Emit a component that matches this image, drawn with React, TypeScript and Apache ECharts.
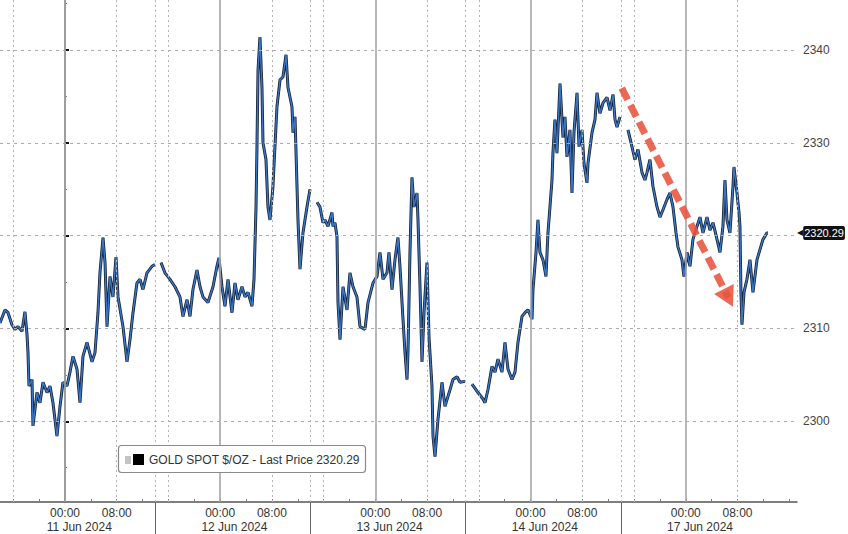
import React, { useEffect, useRef } from "react";
import * as echarts from "echarts";

// Hours counted from 11 Jun 2024 00:00; each shown trading day (11, 12, 13, 14, 17 Jun) is 24h wide.
const session11Jun: [number, number][] = [
  [-10.05, 2310.6], [-9.28, 2312.0], [-8.81, 2311.7], [-8.2, 2310.4], [-7.73, 2309.9], [-7.27, 2310.2],
  [-6.65, 2309.7], [-6.19, 2311.8], [-5.88, 2309.4], [-5.72, 2307.4], [-5.57, 2303.8], [-5.1, 2304.5],
  [-4.95, 2299.5], [-4.33, 2303.1], [-3.87, 2302.0], [-3.4, 2304.2], [-2.78, 2303.1], [-2.32, 2303.8],
  [-1.86, 2302.0], [-1.24, 2298.4], [-0.77, 2301.6], [-0.31, 2304.2], [0.31, 2303.8], [0.77, 2305.3],
  [1.24, 2307.0], [1.86, 2305.6], [2.32, 2302.0], [2.78, 2307.0], [3.4, 2308.5], [4.18, 2306.4],
  [4.64, 2307.4], [5.1, 2311.7], [5.41, 2316.0], [5.88, 2319.8], [6.19, 2317.1], [6.5, 2310.2],
  [6.96, 2315.6], [7.42, 2313.4], [7.89, 2317.7], [8.2, 2313.4], [8.97, 2310.2], [9.59, 2306.4],
  [10.05, 2308.8], [10.52, 2311.7], [11.13, 2314.9], [11.6, 2315.3], [12.06, 2314.2], [12.68, 2316.0],
  [13.45, 2316.7], [13.92, 2316.9],
];
const session12Jun: [number, number][] = [
  [14.85, 2317.1], [15.46, 2316.0], [16.24, 2315.3], [17.01, 2314.5], [17.78, 2313.4], [18.25, 2311.3],
  [18.87, 2313.1], [19.33, 2311.3], [19.79, 2314.2], [20.41, 2316.3], [20.88, 2314.5], [21.34, 2313.4],
  [22.11, 2312.8], [22.89, 2314.5], [23.5, 2316.7], [23.81, 2317.6], [24.28, 2314.5], [24.74, 2312.4],
  [25.21, 2315.3], [25.82, 2311.7], [26.29, 2314.9], [26.75, 2313.1], [27.37, 2314.5], [27.84, 2313.4],
  [28.3, 2313.9], [28.92, 2312.4], [29.23, 2315.3], [29.54, 2323.1], [29.69, 2329.6], [29.85, 2337.8],
  [30.15, 2341.4], [30.46, 2336.0], [30.62, 2330.0], [31.08, 2328.2], [31.39, 2323.1], [31.7, 2321.7],
  [32.16, 2325.3], [32.78, 2333.9], [33.25, 2336.8], [33.71, 2337.1], [34.18, 2339.5], [34.48, 2336.0],
  [35.1, 2333.9], [35.26, 2331.1], [35.57, 2332.8], [35.88, 2325.3], [36.03, 2321.7], [36.34, 2316.4],
  [36.8, 2320.3], [37.42, 2323.1], [37.89, 2325.0],
];
const session13Jun: [number, number][] = [
  [38.97, 2323.6], [39.43, 2323.1], [39.9, 2321.4], [40.21, 2321.7], [40.67, 2321.0], [41.29, 2322.5],
  [41.44, 2321.0], [41.75, 2321.4], [42.06, 2319.9], [42.22, 2312.8], [42.53, 2308.8], [42.99, 2314.5],
  [43.61, 2312.0], [44.07, 2316.0], [44.54, 2314.5], [45.15, 2313.4], [45.62, 2310.2], [46.39, 2309.9],
  [46.86, 2312.8], [47.63, 2314.9], [48.25, 2315.6], [48.71, 2318.2], [49.18, 2315.3], [49.79, 2316.0],
  [50.1, 2318.2], [50.57, 2314.2], [51.03, 2317.4], [51.49, 2319.8], [51.8, 2316.7], [52.27, 2311.0],
  [52.58, 2307.4], [52.89, 2304.5], [53.04, 2307.4], [53.35, 2318.2], [53.66, 2326.3], [53.97, 2323.1],
  [54.43, 2324.6], [54.59, 2321.7], [54.9, 2314.5], [55.21, 2306.4], [55.52, 2311.7], [55.98, 2317.1],
  [56.29, 2309.1], [56.75, 2303.8], [56.91, 2298.4], [57.22, 2296.2], [57.68, 2300.2], [58.3, 2304.2],
  [58.76, 2301.6], [59.54, 2303.4], [60.0, 2304.5], [60.62, 2304.8], [61.08, 2304.2], [61.86, 2304.3],
];
const session14Jun: [number, number][] = [
  [62.94, 2304.0], [63.87, 2303.1], [64.64, 2302.4], [64.95, 2302.0], [65.41, 2303.4], [66.03, 2305.9],
  [66.5, 2305.3], [66.96, 2306.7], [67.58, 2305.3], [68.04, 2308.5], [68.51, 2305.6], [69.13, 2304.5],
  [69.59, 2305.3], [70.05, 2308.5], [70.67, 2311.3], [71.13, 2311.7], [71.6, 2312.0], [72.22, 2311.0],
  [72.37, 2314.2], [72.84, 2318.2], [73.14, 2321.7], [73.45, 2318.2], [73.92, 2317.4], [74.38, 2315.6],
  [74.69, 2320.3], [75.0, 2323.1], [75.31, 2326.0], [75.46, 2328.9], [75.77, 2332.5], [76.08, 2328.9],
  [76.55, 2336.4], [77.01, 2330.6], [77.32, 2332.8], [77.63, 2328.5], [78.09, 2331.4], [78.4, 2324.6],
  [78.71, 2331.1], [79.18, 2335.4], [79.49, 2329.6], [79.95, 2331.4], [80.26, 2327.8], [80.72, 2325.7],
  [80.88, 2327.8], [81.5, 2331.1], [81.96, 2332.5], [82.27, 2335.4], [82.73, 2333.2], [83.2, 2334.3],
  [83.82, 2334.9], [84.28, 2333.5], [84.75, 2335.2], [85.06, 2332.5], [85.37, 2331.7], [85.83, 2332.8],
];
const session17Jun: [number, number][] = [
  [87.06, 2331.4], [87.68, 2329.6], [88.14, 2328.2], [88.61, 2329.3], [89.23, 2326.8], [89.69, 2326.0],
  [90.0, 2326.8], [90.46, 2328.2], [90.93, 2325.3], [91.55, 2323.1], [92.01, 2322.0], [92.48, 2322.8],
  [93.09, 2323.9], [93.56, 2324.6], [94.02, 2323.1], [94.49, 2320.3], [94.79, 2318.8], [95.41, 2317.4],
  [95.72, 2315.6], [96.19, 2318.2], [96.65, 2316.7], [97.11, 2319.6], [97.73, 2321.0], [98.2, 2322.0],
  [98.66, 2320.3], [99.28, 2322.0], [99.74, 2320.6], [100.21, 2321.4], [100.83, 2319.6], [101.29, 2318.2],
  [101.75, 2321.0], [102.06, 2326.0], [102.37, 2321.7], [102.83, 2320.3], [103.3, 2325.3], [103.45, 2327.4],
  [103.92, 2324.6], [104.23, 2322.5], [104.38, 2321.0], [104.53, 2313.9], [104.69, 2310.4], [105.0, 2313.9],
  [105.46, 2315.3], [105.93, 2317.4], [106.39, 2313.9], [107.01, 2317.4], [107.47, 2318.5], [107.94, 2319.6],
  [108.56, 2320.3], [108.71, 2320.29],
];

const dayLabels = ["11 Jun 2024", "12 Jun 2024", "13 Jun 2024", "14 Jun 2024", "17 Jun 2024"];
const dayStarts = [0, 24, 48, 72, 96];
const dateLabelPos = [2.2, 26.2, 50.2, 74.2, 98.2];
const timeLabelPos = [0, 8, 24, 32, 48, 56, 72, 80, 96, 104];
const dottedTimes = [-8, 8, 16, 32, 40, 56, 64, 80, 88, 104];
const sessionBreaks = [13.9, 37.9, 61.9, 86.0];
const minorTimeTicks = [-8, -4, 0, 4, 8, 12, 16, 20, 24, 28, 32, 36, 40, 44, 48, 52, 56, 60, 64, 68, 72, 76, 80, 84, 88, 92, 96, 100, 104, 108, 112];
const yGrid = [2300, 2310, 2320, 2330, 2340];
const yLabels = [2300, 2310, 2330, 2340];
const yMinor = [2295, 2305, 2315, 2325, 2335, 2345];
const lastPrice = 2320.29;
const arrowStart: [number, number] = [86.1, 2335.9];
const arrowEnd: [number, number] = [102.6, 2313.3];

const X_MIN = -10.05;
const X_MAX = 113.2;
const Y_MIN = 2291.3;
const Y_MAX = 2345.4;
const FONT = "'Liberation Sans', Arial, sans-serif";

export default function App() {
  const ref = useRef<HTMLDivElement>(null);
  useEffect(() => {
    document.body.style.margin = "0";
    const chart = echarts.init(ref.current as HTMLDivElement, null, { renderer: "svg" });

    const sessions = [session11Jun, session12Jun, session13Jun, session14Jun, session17Jun];
    const lineData: any[] = [];
    sessions.forEach((s, i) => {
      if (i > 0) {
        const prev = sessions[i - 1];
        lineData.push([(prev[prev.length - 1][0] + s[0][0]) / 2, "-"]);
      }
      s.forEach((p) => lineData.push(p));
    });

    const dotted = { color: "#b4b4b4", width: 1, type: [2, 3] as any };
    const gridLines: any[] = [
      ...dottedTimes.map((v) => ({ xAxis: v, lineStyle: dotted })),
      ...sessionBreaks.map((v) => ({ xAxis: v, lineStyle: dotted })),
      ...yGrid.map((v) => ({ yAxis: v, lineStyle: { color: "#ababab", width: 1, type: [3, 4] } })),
      ...dayStarts.map((v) => ({ xAxis: v, lineStyle: { color: "#a5a5a5", width: 1.6, type: "solid" } })),
    ];

    const baseX = { type: "value", min: X_MIN, max: X_MAX, position: "bottom", splitLine: { show: false } };
    const baseY = { type: "value", min: Y_MIN, max: Y_MAX, position: "right", splitLine: { show: false } };

    const option: any = {
      animation: false,
      grid: { left: 0, right: 51, top: 0, bottom: 32, containLabel: false, outerBoundsMode: "none" },
      xAxis: [
        {
          ...baseX,
          axisLine: { show: true, lineStyle: { color: "#555", width: 1.5 } },
          axisTick: { show: true, customValues: minorTimeTicks, length: 3, inside: true, lineStyle: { color: "#777" } },
          axisLabel: {
            show: true,
            customValues: timeLabelPos,
            margin: 5,
            fontSize: 12,
            color: "#333",
            fontFamily: FONT,
            formatter: (v: number) => {
              const r = ((Math.round(v) % 24) + 24) % 24;
              return String(r).padStart(2, "0") + ":00";
            },
          },
        },
        {
          ...baseX,
          axisLine: { show: false },
          axisTick: { show: false },
          axisLabel: {
            show: true,
            customValues: dateLabelPos,
            margin: 19,
            fontSize: 12,
            color: "#333",
            fontFamily: FONT,
            formatter: (v: number) => dayLabels[Math.max(0, Math.min(4, Math.round((v - 2.2) / 24)))],
          },
        },
        {
          ...baseX,
          axisLine: { show: false },
          axisTick: { show: true, customValues: sessionBreaks, length: 32, lineStyle: { color: "#666", width: 1 } },
          axisLabel: { show: false },
        },
      ],
      yAxis: [
        {
          ...baseY,
          axisLine: { show: true, lineStyle: { color: "#555", width: 1.5 } },
          axisTick: { show: true, customValues: yGrid, length: 4, lineStyle: { color: "#111", width: 2 } },
          axisLabel: {
            show: true,
            customValues: yLabels,
            margin: 6,
            fontSize: 12,
            color: "#444",
            fontFamily: FONT,
            formatter: (v: number) => String(Math.round(v)),
          },
        },
        {
          ...baseY,
          axisLine: { show: false },
          axisTick: { show: true, customValues: yMinor, length: 2, lineStyle: { color: "#777" } },
          axisLabel: { show: false },
        },
        {
          ...baseY,
          axisLine: { show: false },
          axisTick: { show: false },
          axisLabel: {
            show: true,
            customValues: [lastPrice],
            margin: 0,
            formatter: () => "{a|◀}{b|" + lastPrice.toFixed(2) + "}",
            rich: {
              a: { color: "#111", fontSize: 8, fontFamily: "DejaVu Sans", padding: [0, 0, 0, 0] },
              b: {
                color: "#fff",
                backgroundColor: "#111",
                fontSize: 11,
                fontFamily: FONT,
                padding: [2, 1, 1, 1],
                borderRadius: 2,
              },
            },
          },
        },
      ],
      series: [
        {
          type: "line",
          name: "grid",
          data: [],
          silent: true,
          z: 1,
          markLine: {
            silent: true,
            symbol: ["none", "none"],
            label: { show: false },
            animation: false,
            data: gridLines,
          },
        },
        {
          type: "line",
          name: "GOLD SPOT $/OZ",
          data: lineData,
          showSymbol: false,
          connectNulls: false,
          z: 3,
          lineStyle: { color: "#172338", width: 3 },
        },
        {
          type: "line",
          name: "GOLD SPOT $/OZ (blue)",
          data: lineData,
          showSymbol: false,
          connectNulls: false,
          z: 4,
          lineStyle: { color: "#3a76c4", width: 1.4 },
        },
        {
          type: "line",
          name: "arrow",
          data: [],
          silent: true,
          z: 6,
          markLine: {
            silent: true,
            animation: false,
            symbol: ["none", "triangle"],
            symbolSize: [22, 20],
            label: { show: false },
            lineStyle: { color: "#e8533d", width: 7, type: [13, 6], opacity: 0.88, cap: "butt" },
            data: [[{ coord: arrowStart }, { coord: arrowEnd }]],
          },
        },
      ],
      graphic: [
        {
          type: "rect",
          z: 100,
          shape: { x: 118.5, y: 445.5, width: 247, height: 27, r: 3 },
          style: { fill: "#fff", stroke: "#8a8a8a", lineWidth: 1.2 },
        },
        { type: "rect", z: 101, shape: { x: 125, y: 456, width: 6, height: 8 }, style: { fill: "#c4c4c4" } },
        { type: "rect", z: 101, shape: { x: 133, y: 454, width: 11, height: 11 }, style: { fill: "#000" } },
        {
          type: "text",
          z: 101,
          x: 149,
          y: 460,
          style: {
            text: "GOLD SPOT $/OZ - Last Price 2320.29",
            font: "12px 'Liberation Sans', Arial, sans-serif",
            fill: "#333",
            verticalAlign: "middle",
          },
        },
      ],
    };

    chart.setOption(option);
    return () => chart.dispose();
  }, []);
  return <div ref={ref} style={{ width: 848, height: 534 }} />;
}
